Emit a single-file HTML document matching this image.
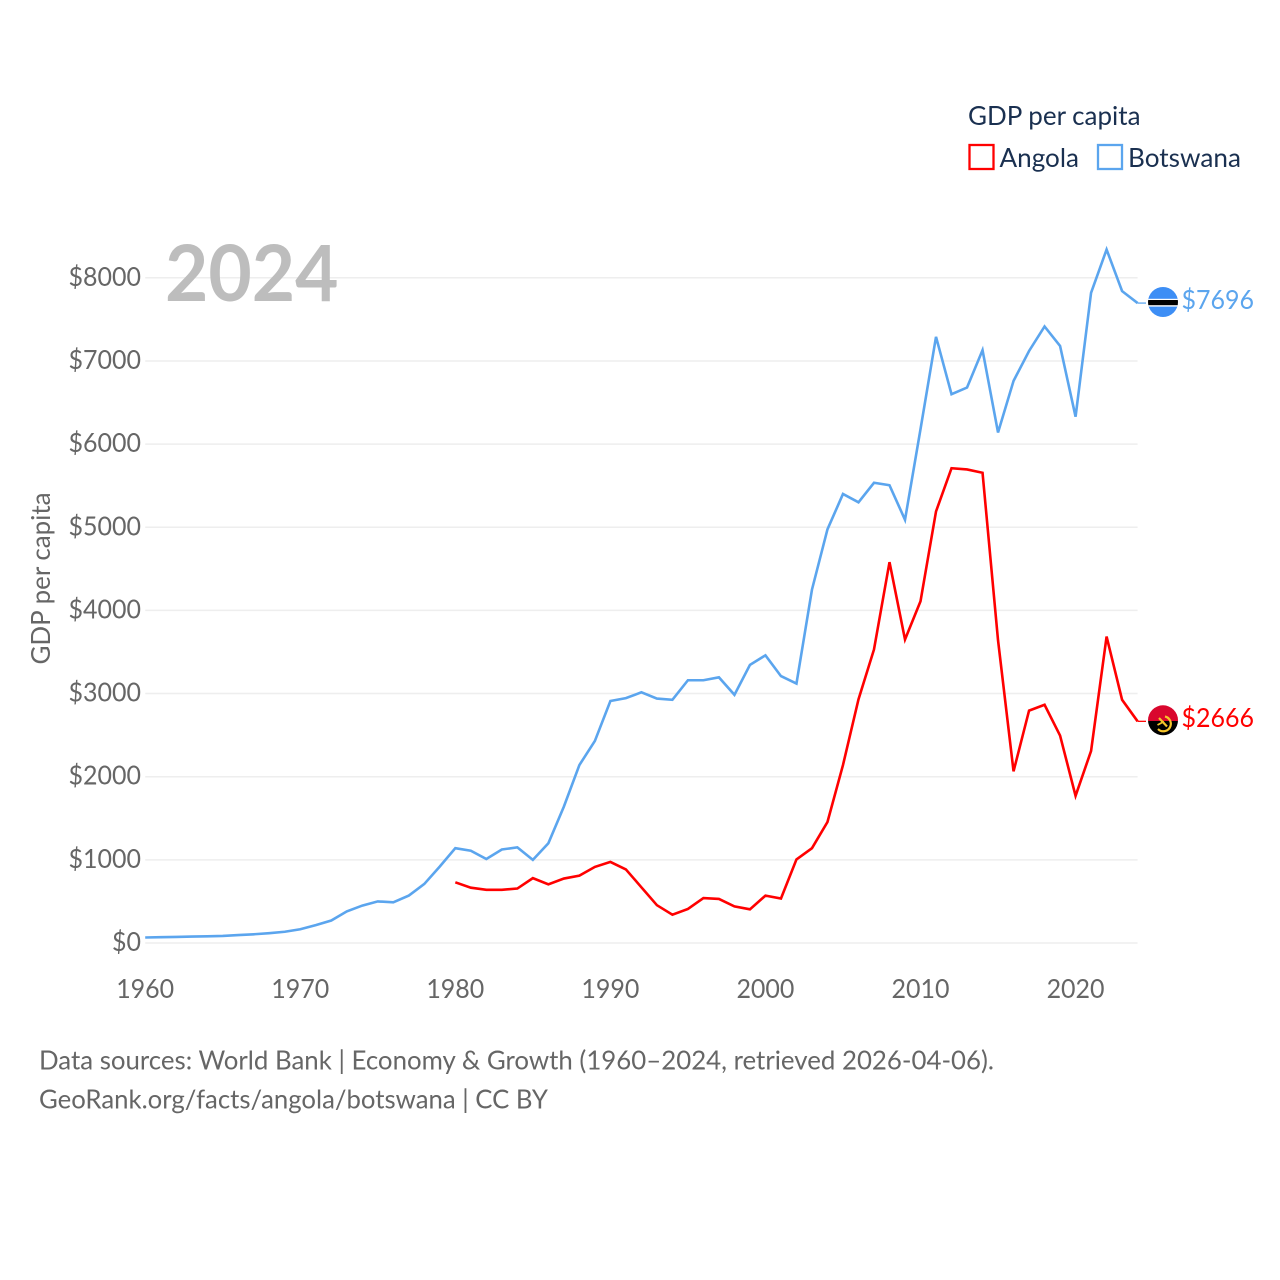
<!DOCTYPE html>
<html lang="en">
<head>
<meta charset="utf-8">
<title>GDP per capita: Angola and Botswana</title>
<style>
  html, body { margin: 0; padding: 0; background: #fff; }
  svg { display: block; }
  text { font-family: "Lato", "Carlito", "Liberation Sans", sans-serif; }
</style>
</head>
<body>
<svg id="chart" xmlns="http://www.w3.org/2000/svg" width="1280" height="1280" viewBox="0 0 1280 1280">
  <rect x="0" y="0" width="1280" height="1280" fill="#ffffff"/>
  <g id="grid"></g>
  <g id="y-ticks"></g>
  <g id="x-ticks"></g>
  <text x="165" y="301" font-size="78" font-weight="700" fill="#bdbdbd" textLength="173.5" lengthAdjust="spacingAndGlyphs">2024</text>
  <text transform="translate(50,664.5) rotate(-90)" font-size="26" fill="#666666" textLength="172" lengthAdjust="spacingAndGlyphs">GDP per capita</text>
  <g id="series"></g>

  <g>
    <text x="968" y="125" font-size="26" fill="#1a3050" textLength="172.5" lengthAdjust="spacingAndGlyphs">GDP per capita</text>
    <rect x="969.5" y="145" width="24" height="24" fill="none" stroke="#ff0000" stroke-width="2.3"/>
    <text x="999.5" y="167" font-size="26" fill="#1a3050" textLength="79.5" lengthAdjust="spacingAndGlyphs">Angola</text>
    <rect x="1098" y="145" width="24" height="24" fill="none" stroke="#5ba5ee" stroke-width="2.3"/>
    <text x="1128" y="167" font-size="26" fill="#1a3050" textLength="113" lengthAdjust="spacingAndGlyphs">Botswana</text>
  </g>

  <defs>
    <clipPath id="flag-clip-bw"><circle cx="1163" cy="302" r="15"/></clipPath>
    <clipPath id="flag-clip-ao"><circle cx="1163" cy="720.3" r="15"/></clipPath>
  </defs>
  <g id="flag-botswana" clip-path="url(#flag-clip-bw)">
    <rect x="1148" y="287" width="30" height="30" fill="#3d8ef5"/>
    <rect x="1148" y="298.8" width="30" height="7.8" fill="#ffffff"/>
    <rect x="1148" y="300" width="30" height="5.2" fill="#000000"/>
  </g>
  <g id="flag-angola" clip-path="url(#flag-clip-ao)">
    <rect x="1148" y="705" width="30" height="16" fill="#d9072e"/>
    <rect x="1148" y="721" width="30" height="15" fill="#000000"/>
    <path d="M1165 716.5 A7.5 7.5 0 0 1 1170.5 726 A7.5 7.5 0 0 1 1158 729" fill="none" stroke="#f6c52a" stroke-width="2.2"/>
    <path d="M1159 718 L1167 726.5" fill="none" stroke="#f6c52a" stroke-width="2.2"/>
    <path d="M1157.5 725 L1164 721.5" fill="none" stroke="#f6c52a" stroke-width="1.8"/>
  </g>

  <text x="1181.5" y="309" font-size="26" fill="#5ba5ee" textLength="72.5" lengthAdjust="spacingAndGlyphs">$7696</text>
  <text x="1181.5" y="727" font-size="26" fill="#ff0000" textLength="72.5" lengthAdjust="spacingAndGlyphs">$2666</text>

  <text x="39" y="1069.5" font-size="26" fill="#666666" textLength="955" lengthAdjust="spacingAndGlyphs">Data sources: World Bank | Economy &amp; Growth (1960–2024, retrieved 2026-04-06).</text>
  <text x="39" y="1108.5" font-size="26" fill="#666666" textLength="509" lengthAdjust="spacingAndGlyphs">GeoRank.org/facts/angola/botswana | CC BY</text>
</svg>

<script>
const yTickValues = [0, 1000, 2000, 3000, 4000, 5000, 6000, 7000, 8000];
const yTickLabels = ["$0", "$1000", "$2000", "$3000", "$4000", "$5000", "$6000", "$7000", "$8000"];
const xTickYears = [1960, 1970, 1980, 1990, 2000, 2010, 2020];
const xTickLabels = ["1960", "1970", "1980", "1990", "2000", "2010", "2020"];

const botswanaStartYear = 1960;
const botswanaValues = [
  66, 70, 73, 77, 80, 85, 95, 105, 118, 135,
  165, 215, 270, 380, 450, 500, 490, 570, 710, 920,
  1140, 1110, 1010, 1125, 1150, 1000, 1200, 1640, 2140, 2430,
  2910, 2945, 3015, 2940, 2925, 3160, 3160, 3195, 2985, 3345,
  3460, 3210, 3120, 4250, 4975, 5400, 5300, 5535, 5505, 5090,
  6180, 7290, 6600, 6680, 7130, 6140, 6760, 7120, 7415, 7180,
  6330, 7820, 8340, 7840, 7696
];

const angolaStartYear = 1980;
const angolaValues = [
  730, 665, 640, 640, 655, 780, 705, 775, 810, 915,
  975, 885, 670, 455, 340, 410, 540, 530, 440, 405,
  570, 535, 1005, 1140, 1455, 2140, 2930, 3530, 4580, 3650,
  4110, 5190, 5710, 5695, 5655, 3640, 2065, 2795, 2865, 2495,
  1770, 2310, 3685, 2925, 2666
];

const SVG_NS = "http://www.w3.org/2000/svg";
const firstYear = 1960;
const lastYear = 2024;
const leaderEndX = 1146;

function xScale(year) {
  return 145.2 + (year - firstYear) * (1137.6 - 145.2) / (lastYear - firstYear);
}
function yScale(value) {
  return 943 - value * (943 - 277.8) / 8000;
}
function linePath(startYear, values) {
  return values.map(function (v, i) {
    return (i === 0 ? "M" : "L") + xScale(startYear + i).toFixed(2) + " " + yScale(v).toFixed(2);
  }).join(" ");
}

const gridGroup = document.getElementById("grid");
const yTickGroup = document.getElementById("y-ticks");
yTickValues.forEach(function (v, i) {
  const line = document.createElementNS(SVG_NS, "line");
  
  
  line.setAttribute("x1", xScale(firstYear));
  line.setAttribute("x2", xScale(lastYear));
  line.setAttribute("y1", yScale(v));
  line.setAttribute("y2", yScale(v));
  line.setAttribute("stroke", "#eeeeee");
  line.setAttribute("stroke-width", "1.5");
  gridGroup.appendChild(line);

  const label = document.createElementNS(SVG_NS, "text");
  
  
  label.setAttribute("x", 141);
  label.setAttribute("y", yScale(v) + 8);
  label.setAttribute("text-anchor", "end");
  label.setAttribute("font-size", "26");
  label.setAttribute("fill", "#666666");
  label.setAttribute("textLength", yTickLabels[i].length * 14.5);
  label.setAttribute("lengthAdjust", "spacingAndGlyphs");
  label.textContent = yTickLabels[i];
  yTickGroup.appendChild(label);
});

const xTickGroup = document.getElementById("x-ticks");
xTickYears.forEach(function (year, i) {
  const label = document.createElementNS(SVG_NS, "text");
  
  
  label.setAttribute("x", xScale(year) - 29);
  label.setAttribute("y", 998);
  label.setAttribute("font-size", "26");
  label.setAttribute("fill", "#666666");
  label.setAttribute("textLength", "58");
  label.setAttribute("lengthAdjust", "spacingAndGlyphs");
  label.textContent = xTickLabels[i];
  xTickGroup.appendChild(label);
});

const seriesGroup = document.getElementById("series");

const botswanaLine = document.createElementNS(SVG_NS, "path");


botswanaLine.setAttribute("d", linePath(botswanaStartYear, botswanaValues));
botswanaLine.setAttribute("fill", "none");
botswanaLine.setAttribute("stroke", "#5ba5ee");
botswanaLine.setAttribute("stroke-width", "2.6");
botswanaLine.setAttribute("stroke-linejoin", "miter");
seriesGroup.appendChild(botswanaLine);

const angolaLine = document.createElementNS(SVG_NS, "path");


angolaLine.setAttribute("d", linePath(angolaStartYear, angolaValues));
angolaLine.setAttribute("fill", "none");
angolaLine.setAttribute("stroke", "#ff0000");
angolaLine.setAttribute("stroke-width", "2.6");
angolaLine.setAttribute("stroke-linejoin", "miter");
seriesGroup.appendChild(angolaLine);

const botswanaLeader = document.createElementNS(SVG_NS, "line");


botswanaLeader.setAttribute("x1", xScale(lastYear));
botswanaLeader.setAttribute("x2", leaderEndX);
botswanaLeader.setAttribute("y1", yScale(botswanaValues[botswanaValues.length - 1]));
botswanaLeader.setAttribute("y2", yScale(botswanaValues[botswanaValues.length - 1]));
botswanaLeader.setAttribute("stroke", "#5ba5ee");
botswanaLeader.setAttribute("stroke-width", "1.3");
seriesGroup.appendChild(botswanaLeader);

const angolaLeader = document.createElementNS(SVG_NS, "line");


angolaLeader.setAttribute("x1", xScale(lastYear));
angolaLeader.setAttribute("x2", leaderEndX);
angolaLeader.setAttribute("y1", yScale(angolaValues[angolaValues.length - 1]));
angolaLeader.setAttribute("y2", yScale(angolaValues[angolaValues.length - 1]));
angolaLeader.setAttribute("stroke", "#ff0000");
angolaLeader.setAttribute("stroke-width", "1.3");
seriesGroup.appendChild(angolaLeader);
</script>
</body>
</html>
